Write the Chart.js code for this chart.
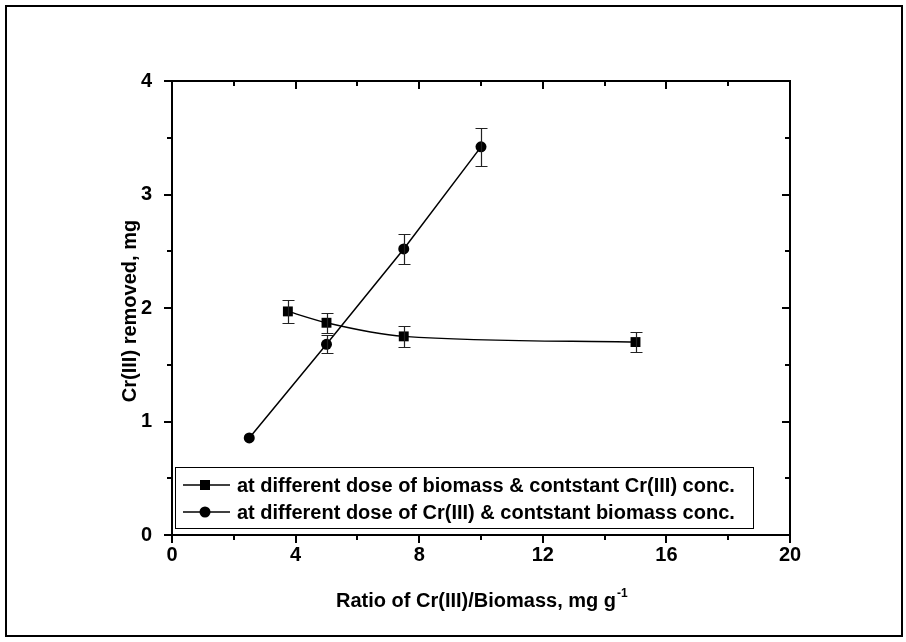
<!DOCTYPE html>
<html>
<head>
<meta charset="utf-8">
<script src="https://cdn.jsdelivr.net/npm/chart.js@4.4.1/dist/chart.umd.min.js"></script>
<style>
  html, body { margin: 0; padding: 0; background: #fff; }
  #wrap { width: 906px; height: 642px; position: relative; }
</style>
</head>
<body>
<div id="wrap"><canvas id="grafica" width="906" height="642"></canvas></div>
<script>
// --- Datos ---
const xTicks = [0, 4, 8, 12, 16, 20];
const yTicks = [0, 1, 2, 3, 4];

const dosisBiomasaX = [3.75, 5, 7.5, 15];
const dosisBiomasaY = [1.97, 1.87, 1.75, 1.70];
const dosisBiomasaErr = [0.10, 0.09, 0.09, 0.09];

const dosisCrX = [2.5, 5, 7.5, 10];
const dosisCrY = [0.855, 1.68, 2.52, 3.42];
const dosisCrErr = [0, 0.08, 0.13, 0.17];

const etiquetas = [
    'at different dose of biomass & contstant Cr(III) conc.',
    'at different dose of Cr(III) & contstant biomass conc.'
];

const FAMILIA = '"Liberation Sans", Arial, sans-serif';
const FUENTE = 'bold 20px ' + FAMILIA;

// --- Barras de error, ejes espejo, marcas y leyenda ---
const decoradoPlugin = {
    id: 'decorado',
    afterDatasetsDraw(chart) {
        const { ctx, scales: { x, y } } = chart;
        ctx.save();

        // barras de error
        const errores = [dosisBiomasaErr, dosisCrErr];
        chart.data.datasets.forEach((ds, i) => {
            ds.data.forEach((p, j) => {
                const e = errores[i][j];
                if (!e) return;
                const px = Math.round(x.getPixelForValue(p.x)) + 0.5;
                const yt = Math.round(y.getPixelForValue(p.y + e)) + 0.5;
                const yb = Math.round(y.getPixelForValue(p.y - e)) + 0.5;
                ctx.strokeStyle = '#222';
                ctx.lineWidth = 1.2;
                ctx.beginPath();
                ctx.moveTo(px, yt); ctx.lineTo(px, yb);
                ctx.moveTo(px - 6, yt); ctx.lineTo(px + 6, yt);
                ctx.moveTo(px - 6, yb); ctx.lineTo(px + 6, yb);
                ctx.stroke();
            });
        });
        ctx.restore();
    },
    afterDraw(chart) {
        const { ctx, chartArea: ca, scales: { x, y } } = chart;
        ctx.save();
        ctx.strokeStyle = '#000';
        ctx.lineWidth = 2;

        // marco del area
        ctx.strokeRect(ca.left, ca.top, ca.right - ca.left, ca.bottom - ca.top);

        // marcas eje x (abajo hacia afuera, arriba hacia adentro)
        for (let v = 0; v <= 20; v += 2) {
            const px = Math.round(x.getPixelForValue(v));
            const largo = v % 4 === 0 ? 8 : 5;
            ctx.beginPath();
            ctx.moveTo(px, ca.bottom); ctx.lineTo(px, ca.bottom + largo);
            ctx.moveTo(px, ca.top); ctx.lineTo(px, ca.top + largo);
            ctx.stroke();
        }
        // marcas eje y (izquierda hacia afuera, derecha hacia adentro)
        for (let v = 0; v <= 4; v += 0.5) {
            const py = Math.round(y.getPixelForValue(v));
            const largo = Number.isInteger(v) ? 8 : 5;
            ctx.beginPath();
            ctx.moveTo(ca.left, py); ctx.lineTo(ca.left - largo, py);
            ctx.moveTo(ca.right, py); ctx.lineTo(ca.right - largo, py);
            ctx.stroke();
        }

        // titulos de ejes
        ctx.fillStyle = '#000';
        ctx.font = FUENTE;
        ctx.textBaseline = 'alphabetic';
        ctx.textAlign = 'center';
        ctx.save();
        ctx.translate(136, 311);
        ctx.rotate(-Math.PI / 2);
        ctx.fillText('Cr(III) removed, mg', 0, 0);
        ctx.restore();

        const base = 'Ratio of Cr(III)/Biomass, mg g';
        ctx.textAlign = 'left';
        const x0 = 336;
        ctx.fillText(base, x0, 607);
        const ancho = ctx.measureText(base).width;
        ctx.font = 'bold 12px ' + FAMILIA;
        ctx.fillText('-1', x0 + ancho + 1, 597);

        // leyenda
        const lx = 175, ly = 467, lw = 578, lh = 61;
        ctx.lineWidth = 1;
        ctx.strokeStyle = '#000';
        ctx.fillStyle = '#fff';
        ctx.fillRect(lx, ly, lw, lh);
        ctx.strokeRect(lx + 0.5, ly + 0.5, lw, lh);
        chart.data.datasets.forEach((ds, i) => {
            const cy = ly + 18 + i * 27;
            ctx.strokeStyle = '#000';
            ctx.lineWidth = 1.5;
            ctx.beginPath();
            ctx.moveTo(lx + 8, cy); ctx.lineTo(lx + 55, cy);
            ctx.stroke();
            ctx.fillStyle = '#000';
            if (ds.pointStyle === 'rect') {
                ctx.fillRect(lx + 30 - 5, cy - 5, 10, 10);
            } else {
                ctx.beginPath();
                ctx.arc(lx + 30, cy, 5.5, 0, Math.PI * 2);
                ctx.fill();
            }
            ctx.font = FUENTE;
            ctx.textAlign = 'left';
            ctx.textBaseline = 'middle';
            ctx.fillText(etiquetas[i], lx + 62, cy + 1);
        });

        // marco exterior
        ctx.lineWidth = 2;
        ctx.strokeRect(6, 6, 896, 630);
        ctx.restore();
    }
};

const ctx = document.getElementById('grafica').getContext('2d');
new Chart(ctx, {
    type: 'line',
    data: {
        datasets: [
            {
                label: etiquetas[0],
                data: dosisBiomasaX.map((v, i) => ({ x: v, y: dosisBiomasaY[i] })),
                borderColor: '#000',
                backgroundColor: '#000',
                borderWidth: 1.5,
                pointStyle: 'rect',
                pointRadius: 7,
                pointBorderWidth: 0,
                cubicInterpolationMode: 'monotone'
            },
            {
                label: etiquetas[1],
                data: dosisCrX.map((v, i) => ({ x: v, y: dosisCrY[i] })),
                borderColor: '#000',
                backgroundColor: '#000',
                borderWidth: 1.5,
                pointStyle: 'circle',
                pointRadius: 5.5,
                pointBorderWidth: 0,
                tension: 0
            }
        ]
    },
    options: {
        responsive: false,
        animation: false,
        layout: { padding: { top: 81, right: 116, left: 0, bottom: 0 } },
        plugins: { legend: { display: false }, tooltip: { enabled: false } },
        scales: {
            x: {
                type: 'linear',
                min: 0, max: 20,
                afterBuildTicks: s => { s.ticks = xTicks.map(v => ({ value: v })); },
                afterFit: s => { s.height = 642 - 535; },
                grid: { display: false, drawTicks: false },
                border: { display: false },
                ticks: { color: '#000', font: { family: FAMILIA, size: 20, weight: 'bold' }, padding: 8, maxRotation: 0 }
            },
            y: {
                type: 'linear',
                min: 0, max: 4,
                afterBuildTicks: s => { s.ticks = yTicks.map(v => ({ value: v })); },
                afterFit: s => { s.width = 172; },
                grid: { display: false, drawTicks: false },
                border: { display: false },
                ticks: { color: '#000', font: { family: FAMILIA, size: 20, weight: 'bold' }, padding: 20 }
            }
        }
    },
    plugins: [decoradoPlugin]
});
</script>
</body>
</html>
